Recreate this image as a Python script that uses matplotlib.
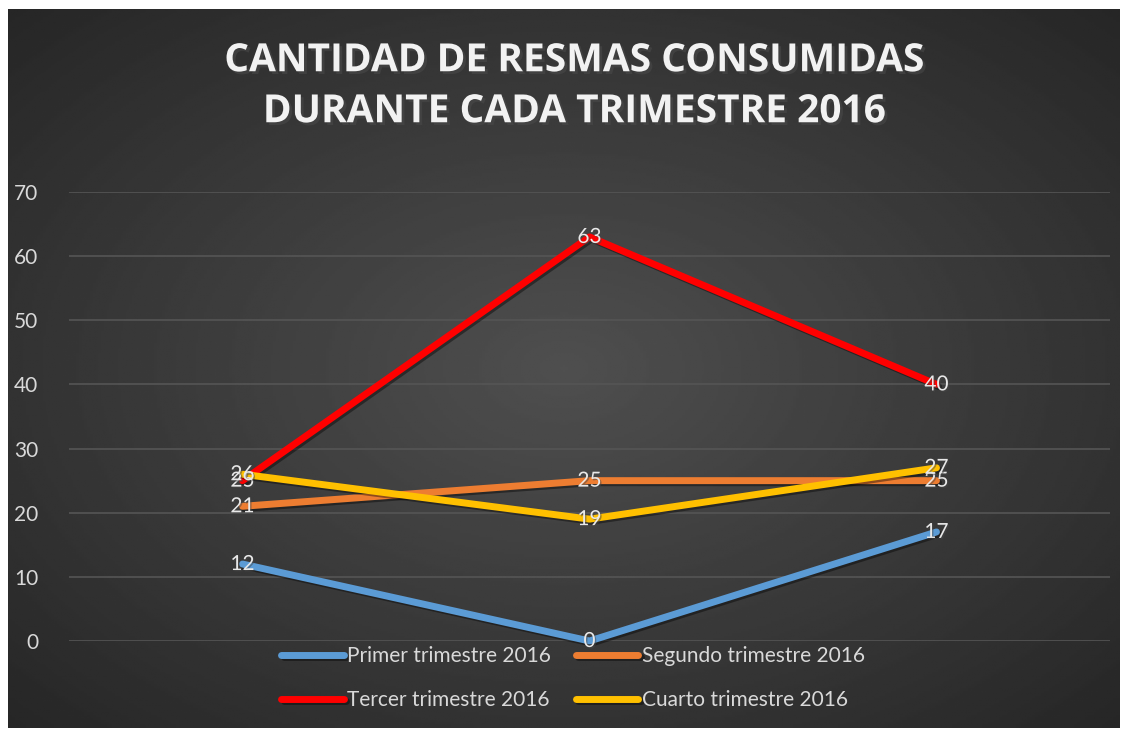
import numpy as np
import matplotlib.pyplot as plt
import matplotlib.patheffects as pe

# Data
categorias = ['1', '2', '3']
primer = [12, 0, 17]
segundo = [21, 25, 25]
tercer = [25, 63, 40]
cuarto = [26, 19, 27]
series = ['Primer trimestre 2016', 'Segundo trimestre 2016',
          'Tercer trimestre 2016', 'Cuarto trimestre 2016']
colores = ['#5B9BD5', '#ED7D31', '#FF0000', '#FFC000']
yticks = [0, 10, 20, 30, 40, 50, 60, 70]

plt.rcParams['font.family'] = ['Lato', 'DejaVu Sans']

fig = plt.figure(figsize=(11.28, 7.31), dpi=100)
fig.patch.set_facecolor('white')

# dark radial gradient background
bg = fig.add_axes([8/1128, 3/731, 1112/1128, 719/731])
yy, xx = np.mgrid[-1:1:300j, -1:1:400j]
r = np.sqrt(xx**2 + yy**2) / np.sqrt(2)
bg.imshow(0.31 - 0.16 * r, cmap='gray', vmin=0, vmax=1, aspect='auto',
          extent=[0, 1, 0, 1])
bg.axis('off')

ax = fig.add_axes([69/1128, 1 - 641/731, 1041/1128, 449/731])
ax.set_facecolor('none')
x = np.arange(len(categorias))
sh = [pe.SimpleLineShadow(offset=(1.5, -1.5), alpha=0.4), pe.Normal()]
datos = [primer, segundo, tercer, cuarto]
lineas = []
for vals, nombre, c in zip(datos, series, colores):
    l, = ax.plot(x, vals, color=c, lw=5, solid_capstyle='round', label=nombre,
                 clip_on=False, zorder=3, path_effects=sh)
    lineas.append(l)
for vals in datos:
    for xi, v in zip(x, vals):
        ax.text(xi, v, str(v), ha='center', va='center', fontsize=15,
                color='#e8e8e8', zorder=5,
                path_effects=[pe.withSimplePatchShadow(offset=(1, -1), alpha=0.5)])

ax.set_xlim(-0.5, 2.5)
ax.set_ylim(0, 70)
ax.set_yticks(yticks)
ax.yaxis.grid(True, color='#555555', lw=1.2)
ax.set_axisbelow(True)
ax.set_xticks([])
ax.tick_params(axis='y', length=0, pad=22, labelsize=15, labelcolor='#d9d9d9')
for s in ax.spines.values():
    s.set_visible(False)

fig.text(0.509, 0.882, 'CANTIDAD DE RESMAS CONSUMIDAS\nDURANTE CADA TRIMESTRE 2016',
         ha='center', va='center', fontsize=28, fontweight='bold', color='#f2f2f2',
         family=['Open Sans', 'DejaVu Sans'], linespacing=1.4,
         path_effects=[pe.withSimplePatchShadow(offset=(2, -2), alpha=0.6)])

# row-wise order: Primer, Segundo / Tercer, Cuarto
orden = [0, 2, 1, 3]
leg = fig.legend([lineas[i] for i in orden], [series[i] for i in orden],
                 loc='center', bbox_to_anchor=(0.508, 0.072), ncol=2, frameon=False,
                 fontsize=15, labelcolor='#d9d9d9', handlelength=3.0,
                 handletextpad=0.15, columnspacing=1.2, labelspacing=1.15)
for h in leg.get_lines():
    h.set_linewidth(5)

fig.savefig('out.png', dpi=100, facecolor='white')
